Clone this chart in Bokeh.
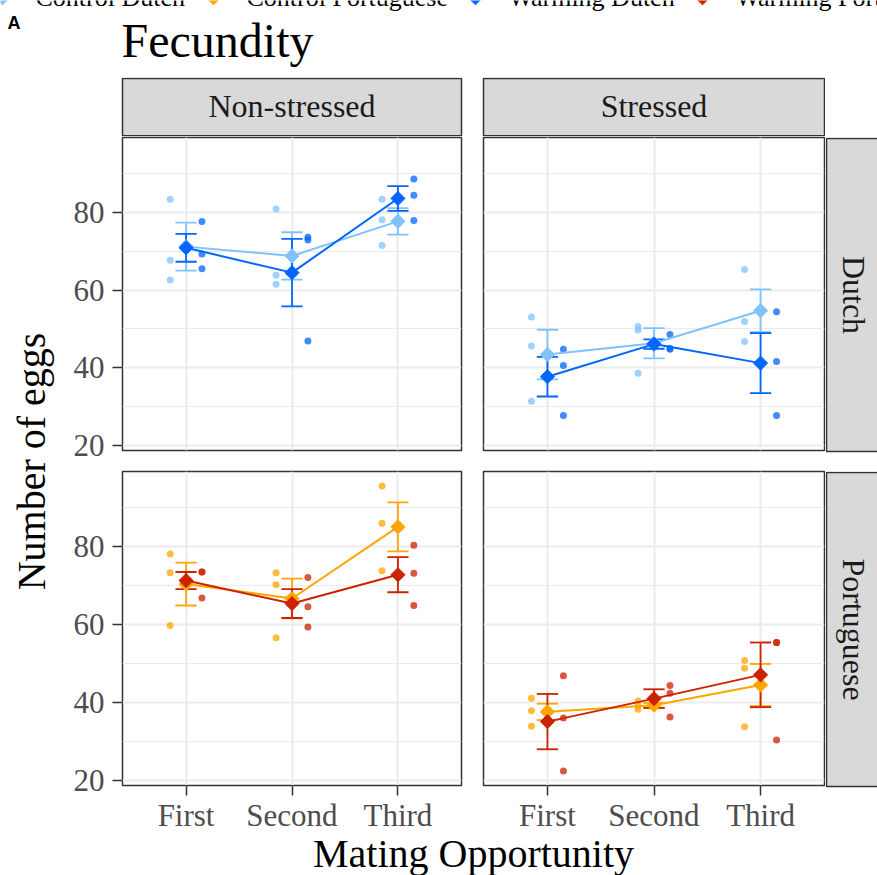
import math

from bokeh.core.properties import value
from bokeh.embed import file_html
from bokeh.layouts import column, row
from bokeh.models import FixedTicker, Grid, LinearAxis, Range1d
from bokeh.plotting import figure
from bokeh.resources import INLINE

# ---------------------------------------------------------------- data
opportunities = ["First", "Second", "Third"]
conditions = ["Non-stressed", "Stressed"]
populations = ["Dutch", "Portuguese"]
treatments = ["Control Dutch", "Control Portuguese", "Warming Dutch", "Warming Portuguese"]

y_ticks = [20, 40, 60, 80]
y_minor = [30, 50, 70, 90]

# eggs laid by each female, three females per mating opportunity
ctrl_dutch_ns_pts = [[83.4, 67.7, 62.6], [80.9, 63.8, 61.5], [83.4, 78.1, 71.5]]
ctrl_dutch_ns_mean = [71.2, 68.8, 77.7]
ctrl_dutch_ns_se = [6.2, 6.1, 3.4]
warm_dutch_ns_pts = [[77.7, 69.3, 65.5], [73.6, 72.9, 46.9], [88.6, 84.4, 77.9]]
warm_dutch_ns_mean = [70.9, 64.5, 83.6]
warm_dutch_ns_se = [3.6, 8.7, 3.2]

ctrl_dutch_s_pts = [[53.1, 45.6, 31.4], [50.6, 49.7, 38.6], [65.3, 51.9, 46.8]]
ctrl_dutch_s_mean = [43.4, 46.3, 54.7]
ctrl_dutch_s_se = [6.4, 3.9, 5.5]
warm_dutch_s_pts = [[44.8, 40.6, 27.7], [48.6, 45.0, 44.8], [54.4, 41.6, 27.7]]
warm_dutch_s_mean = [37.7, 46.1, 41.2]
warm_dutch_s_se = [5.1, 1.2, 7.7]

ctrl_port_ns_pts = [[78.1, 73.3, 59.8], [73.3, 70.2, 56.6], [95.6, 86.0, 73.8]]
ctrl_port_ns_mean = [70.4, 66.7, 85.1]
ctrl_port_ns_se = [5.5, 5.1, 6.3]
warm_port_ns_pts = [[73.5, 73.5, 66.8], [72.1, 64.6, 59.4], [80.4, 73.2, 64.9]]
warm_port_ns_mean = [71.3, 65.4, 72.8]
warm_port_ns_se = [2.2, 3.7, 4.5]

ctrl_port_s_pts = [[41.1, 37.9, 33.9], [40.4, 39.1, 38.3], [50.8, 48.8, 33.8]]
ctrl_port_s_mean = [37.6, 39.3, 44.5]
ctrl_port_s_se = [2.1, 0.6, 5.4]
warm_port_s_pts = [[46.9, 36.0, 22.4], [44.4, 42.4, 36.3], [55.4, 55.4, 30.4]]
warm_port_s_mean = [35.1, 41.0, 47.1]
warm_port_s_se = [7.1, 2.4, 8.3]

colors = {
    "Control Dutch": "#80C2FF",
    "Control Portuguese": "#FFA500",
    "Warming Dutch": "#0066FF",
    "Warming Portuguese": "#CC2200",
}

# ---------------------------------------------------------------- style
SERIF = value("Liberation Serif")
SANS = value("Liberation Sans")
BORDER = "#333333"
STRIP_FILL = "#D9D9D9"
GRID = "#EBEBEB"
TICK_TEXT = "#4D4D4D"
STRIP_TEXT = "#1A1A1A"


def canvas(x0, x1, y0, y1):
    """Blank pixel-space figure used for titles, strips and labels."""
    f = figure(frame_width=x1 - x0, frame_height=y1 - y0,
               x_range=Range1d(x0, x1), y_range=Range1d(y1, y0),
               x_axis_type=None, y_axis_type=None,
               toolbar_location=None, output_backend="svg",
               min_border=0, outline_line_color=None)
    f.background_fill_color = "white"
    f.border_fill_color = "white"
    return f


def panel(width, height, left, right, top, bottom, show_x, show_y):
    p = figure(width=width, height=height,
               x_range=Range1d(0.4, 3.6), y_range=Range1d(18.7, 99.3),
               x_axis_type=None, y_axis_type=None,
               toolbar_location=None, output_backend="svg",
               min_border_left=left, min_border_right=right,
               min_border_top=top, min_border_bottom=bottom)
    p.outline_line_color = BORDER
    p.outline_line_width = 1.5
    p.background_fill_color = "white"
    p.border_fill_color = "white"

    p.add_layout(Grid(dimension=0, ticker=FixedTicker(ticks=[1, 2, 3]),
                      grid_line_color=GRID, grid_line_width=2))
    p.add_layout(Grid(dimension=1, ticker=FixedTicker(ticks=y_ticks, minor_ticks=y_minor),
                      grid_line_color=GRID, grid_line_width=2,
                      minor_grid_line_color=GRID, minor_grid_line_width=1))

    def style(ax):
        ax.axis_line_color = None
        ax.major_tick_line_color = BORDER
        ax.major_tick_line_width = 1.5
        ax.major_tick_out = 10
        ax.major_tick_in = 0
        ax.minor_tick_line_color = None
        ax.major_label_text_font = "Liberation Serif"
        ax.major_label_text_font_size = "31px"
        ax.major_label_text_color = TICK_TEXT

    if show_y:
        ay = LinearAxis(ticker=FixedTicker(ticks=y_ticks))
        style(ay)
        ay.major_label_standoff = 8
        p.add_layout(ay, "left")
    if show_x:
        ax = LinearAxis(ticker=FixedTicker(ticks=[1, 2, 3]),
                        major_label_overrides={i + 1: lab for i, lab in enumerate(opportunities)})
        style(ax)
        ax.major_label_standoff = 2
        p.add_layout(ax, "below")
    return p


def draw(p, ctrl, warm, c_ctrl, c_warm):
    series = [(ctrl, c_ctrl, -0.15), (warm, c_warm, 0.15)]
    xs = [1, 2, 3]
    # individual females, dodged either side of the category
    for (pts, mean, se), c, off in series:
        px = [k + 1 + off for k in range(3) for _ in pts[k]]
        py = [v for grp in pts for v in grp]
        p.scatter(px, py, size=7, fill_color=c, line_color=None, fill_alpha=0.75)
    # mean +/- SE
    for (pts, mean, se), c, off in series:
        lo = [m - s for m, s in zip(mean, se)]
        hi = [m + s for m, s in zip(mean, se)]
        p.segment(x0=xs, y0=lo, x1=xs, y1=hi, line_color=c, line_width=1.8)
        p.segment(x0=[x - 0.1 for x in xs], y0=hi, x1=[x + 0.1 for x in xs], y1=hi,
                  line_color=c, line_width=1.8)
        p.segment(x0=[x - 0.1 for x in xs], y0=lo, x1=[x + 0.1 for x in xs], y1=lo,
                  line_color=c, line_width=1.8)
    for (pts, mean, se), c, off in series:
        p.line(xs, mean, line_color=c, line_width=2)
    for (pts, mean, se), c, off in series:
        p.scatter(xs, mean, marker="square", angle=math.pi / 4, size=10,
                  fill_color=c, line_color=c)


# text anchored on the bottom of its em box (baseline + ~0.2 em)
# ---------------------------------------------------------------- header
header = canvas(0, 877, 0, 77)
header.text(x=[7], y=[32.6], text=["A"], text_font=SANS, text_font_style="bold",
            text_font_size="18px", text_color="black", text_baseline="bottom")
header.text(x=[121], y=[66.6], text=["Fecundity"], text_font=SERIF,
            text_font_size="48px", text_color="black", text_baseline="bottom")
legend_x = [35, 246, 508, 735]
header.text(x=legend_x, y=[11.7] * 4, text=treatments, text_font=SERIF,
            text_font_size="26px", text_color="black", text_baseline="bottom")
header.scatter(x=[lx - 33 for lx in legend_x], y=[-2] * 4, marker="square",
               angle=math.pi / 4, size=9,
               fill_color=[colors[t] for t in treatments],
               line_color=[colors[t] for t in treatments])

# ---------------------------------------------------------------- y title
ylab = canvas(0, 60, 77, 875)
ylab.text(x=[53], y=[461], text=["Number of eggs"], angle=math.pi / 2,
          text_font=SERIF, text_font_size="40px", text_color="black",
          text_align="center", text_baseline="bottom")

# ---------------------------------------------------------------- strips
strip_l = canvas(60, 472, 77, 136)
strip_l.quad(left=122, right=461, top=78, bottom=135.2, fill_color=STRIP_FILL,
             line_color=BORDER, line_width=1.5)
strip_l.text(x=[291.5], y=[123.1], text=[conditions[0]], text_font=SERIF,
             text_font_size="32px", text_color=STRIP_TEXT, text_align="center",
             text_baseline="bottom")
strip_r = canvas(472, 825, 77, 136)
strip_r.quad(left=483, right=824, top=78, bottom=135.2, fill_color=STRIP_FILL,
             line_color=BORDER, line_width=1.5)
strip_r.text(x=[653.5], y=[123.1], text=[conditions[1]], text_font=SERIF,
             text_font_size="32px", text_color=STRIP_TEXT, text_align="center",
             text_baseline="bottom")
corner = canvas(825, 877, 77, 136)

rstrip_top = canvas(825, 877, 136, 470)
rstrip_top.quad(left=826, right=900, top=137, bottom=450, fill_color=STRIP_FILL,
                line_color=BORDER, line_width=1.5)
rstrip_top.text(x=[835.6], y=[293.5], text=[populations[0]], angle=-math.pi / 2,
                text_font=SERIF, text_font_size="32px", text_color=STRIP_TEXT,
                text_align="center", text_baseline="bottom")
rstrip_bot = canvas(825, 877, 470, 837)
rstrip_bot.quad(left=826, right=900, top=471, bottom=785, fill_color=STRIP_FILL,
                line_color=BORDER, line_width=1.5)
rstrip_bot.text(x=[835.6], y=[628], text=[populations[1]], angle=-math.pi / 2,
                text_font=SERIF, text_font_size="32px", text_color=STRIP_TEXT,
                text_align="center", text_baseline="bottom")

# ---------------------------------------------------------------- panels
tl = panel(412, 334, 62, 11, 1, 20, show_x=False, show_y=True)
tr = panel(353, 334, 11, 1, 1, 20, show_x=False, show_y=False)
bl = panel(412, 367, 62, 11, 1, 52, show_x=True, show_y=True)
br = panel(353, 367, 11, 1, 1, 52, show_x=True, show_y=False)

draw(tl, (ctrl_dutch_ns_pts, ctrl_dutch_ns_mean, ctrl_dutch_ns_se),
     (warm_dutch_ns_pts, warm_dutch_ns_mean, warm_dutch_ns_se),
     colors["Control Dutch"], colors["Warming Dutch"])
draw(tr, (ctrl_dutch_s_pts, ctrl_dutch_s_mean, ctrl_dutch_s_se),
     (warm_dutch_s_pts, warm_dutch_s_mean, warm_dutch_s_se),
     colors["Control Dutch"], colors["Warming Dutch"])
draw(bl, (ctrl_port_ns_pts, ctrl_port_ns_mean, ctrl_port_ns_se),
     (warm_port_ns_pts, warm_port_ns_mean, warm_port_ns_se),
     colors["Control Portuguese"], colors["Warming Portuguese"])
draw(br, (ctrl_port_s_pts, ctrl_port_s_mean, ctrl_port_s_se),
     (warm_port_s_pts, warm_port_s_mean, warm_port_s_se),
     colors["Control Portuguese"], colors["Warming Portuguese"])

# ---------------------------------------------------------------- x title
xlab = canvas(60, 877, 837, 875)
xlab.text(x=[473], y=[875], text=["Mating Opportunity"], text_font=SERIF,
          text_font_size="40px", text_color="black", text_align="center",
          text_baseline="bottom")

page = column(
    header,
    row(
        ylab,
        column(
            row(strip_l, strip_r, corner),
            row(tl, tr, rstrip_top),
            row(bl, br, rstrip_bot),
            xlab,
        ),
    ),
)

open("out.html", "w").write(file_html(page, INLINE))
